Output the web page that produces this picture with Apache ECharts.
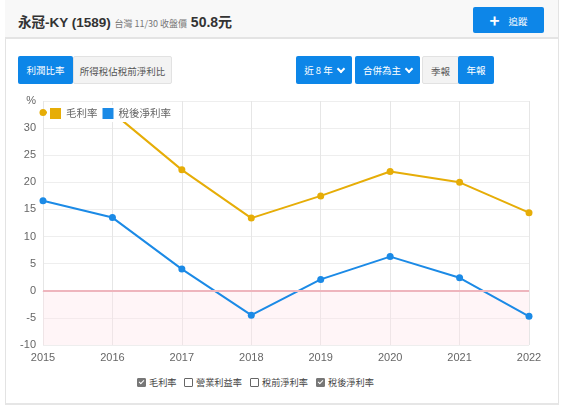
<!DOCTYPE html>
<html>
<head>
<meta charset="utf-8">
<script src="https://cdn.jsdelivr.net/npm/echarts@6/dist/echarts.min.js"></script>
<style>
html,body{margin:0;padding:0;background:#fff;width:575px;height:407px;overflow:hidden;font-family:"Liberation Sans","Noto Sans CJK TC",sans-serif;}
#card{position:absolute;left:5px;top:0;width:552px;height:403px;border-left:1px solid #e3e3e3;border-right:1px solid #e3e3e3;border-bottom:2px solid #e6e6e6;}
#head{position:absolute;left:5px;top:0;width:553px;height:37px;background:#f8f8f8;border-bottom:2px solid #e4e4e4;}
.t1{position:absolute;left:18px;top:11px;font-size:13.5px;color:#333;white-space:nowrap;font-weight:bold;}
.t1 .s{font-size:9px;color:#777;font-weight:normal;font-family:"Noto Sans CJK TC",sans-serif;}
.t1 .p{font-size:14px;font-weight:bold;color:#333;}
.btn{position:absolute;height:28px;line-height:28px;text-align:center;font-size:9.5px;color:#fff;background:#0d86e8;border-radius:2px;font-family:"Noto Sans CJK TC",sans-serif;white-space:nowrap;}
.gray{background:#f3f3f3;color:#555;border:1px solid #e2e2e2;box-sizing:border-box;}
.chev{display:inline-block;width:4px;height:4px;border:solid #fff;border-width:0 2px 2px 0;transform:rotate(45deg);vertical-align:2px;margin-left:5px;}
#chart{position:absolute;left:0;top:90px;width:575px;height:285px;}
.ck{position:absolute;top:375px;font-size:9.2px;color:#444;font-family:"Noto Sans CJK TC",sans-serif;white-space:nowrap;}
.bx{display:inline-block;width:7px;height:7px;border:1px solid #666;border-radius:1px;vertical-align:-1px;margin-right:3px;position:relative;}
.bx.on{background:#777;border-color:#777;}
.bx.on:after{content:"";position:absolute;left:2px;top:0px;width:2px;height:4px;border:solid #fff;border-width:0 1.5px 1.5px 0;transform:rotate(45deg);}
</style>
</head>
<body>
<div id="card"></div>
<div id="head"></div>
<div class="t1">永冠-KY (1589) <span class="s">台灣 11/30 收盤價</span> <span class="p">50.8元</span></div>
<div class="btn" style="left:473px;top:7px;width:71px;height:26px;line-height:26px;"><b style="font-size:17px;vertical-align:-2px;margin-right:9px;">+</b>追蹤</div>
<div class="btn" style="left:18px;top:56px;width:55px;">利潤比率</div>
<div class="btn gray" style="left:73px;top:56px;width:99px;">所得稅佔稅前淨利比</div>
<div class="btn" style="left:296px;top:56px;width:56px;">近 8 年<span class="chev"></span></div>
<div class="btn" style="left:355px;top:56px;width:65px;">合併為主<span class="chev"></span></div>
<div class="btn gray" style="left:422px;top:56px;width:37px;">季報</div>
<div class="btn" style="left:458px;top:56px;width:36px;">年報</div>
<div id="chart"></div>
<span class="ck" style="left:137px;"><span class="bx on"></span>毛利率</span>
<span class="ck" style="left:184px;"><span class="bx"></span>營業利益率</span>
<span class="ck" style="left:250px;"><span class="bx"></span>稅前淨利率</span>
<span class="ck" style="left:316px;"><span class="bx on"></span>稅後淨利率</span>
<script>
var years = ['2015','2016','2017','2018','2019','2020','2021','2022'];
var grossMargin = [32.9, 32.9, 22.3, 13.4, 17.5, 22.0, 20.0, 14.4];
var netMargin = [16.6, 13.5, 4.0, -4.5, 2.1, 6.3, 2.4, -4.7];
var yTicks = [-10, 35, 5];

var chart = echarts.init(document.getElementById('chart'));
chart.setOption({
  animation: false,
  grid: {left: 43, right: 46, top: 11, bottom: 30},
  legend: {
    left: 47, top: 15, padding: [3, 3, 3, 3],
    backgroundColor: '#fff',
    icon: 'rect', itemWidth: 11, itemHeight: 11, itemGap: 5,
    textStyle: {color: '#666', fontSize: 10.5, fontFamily: 'Noto Sans CJK TC'},
    data: ['毛利率', '稅後淨利率']
  },
  xAxis: {
    type: 'category', data: years, boundaryGap: false,
    axisLine: {show: true, lineStyle: {color: '#e2e2e2'}},
    axisTick: {show: false},
    axisLabel: {color: '#666', fontSize: 11, margin: 7, fontFamily: 'Liberation Sans'},
    splitLine: {show: true, lineStyle: {color: '#e6e6e6'}}
  },
  yAxis: {
    type: 'value', min: yTicks[0], max: yTicks[1], interval: yTicks[2],
    axisLine: {show: false}, axisTick: {show: false},
    axisLabel: {color: '#666', fontSize: 11, margin: 7, fontFamily: 'Liberation Sans',
      formatter: function (v) { return v === yTicks[1] ? '%' : v; }},
    splitLine: {lineStyle: {color: '#eeeeee'}}
  },
  series: [
    {
      name: '毛利率', type: 'line', data: grossMargin,
      color: '#e6ad07', symbol: 'circle', symbolSize: 7,
      lineStyle: {width: 2},
      markArea: {silent: true, itemStyle: {color: 'rgba(255,225,232,0.35)'},
        data: [[{yAxis: 0}, {yAxis: yTicks[0]}]]},
      markLine: {silent: true, symbol: 'none', label: {show: false},
        lineStyle: {color: '#eeb5bd', type: 'solid', width: 2},
        data: [{yAxis: 0}]}
    },
    {
      name: '稅後淨利率', type: 'line', data: netMargin,
      color: '#1b8ae6', symbol: 'circle', symbolSize: 7,
      lineStyle: {width: 2}
    }
  ]
});
</script>
</body>
</html>
